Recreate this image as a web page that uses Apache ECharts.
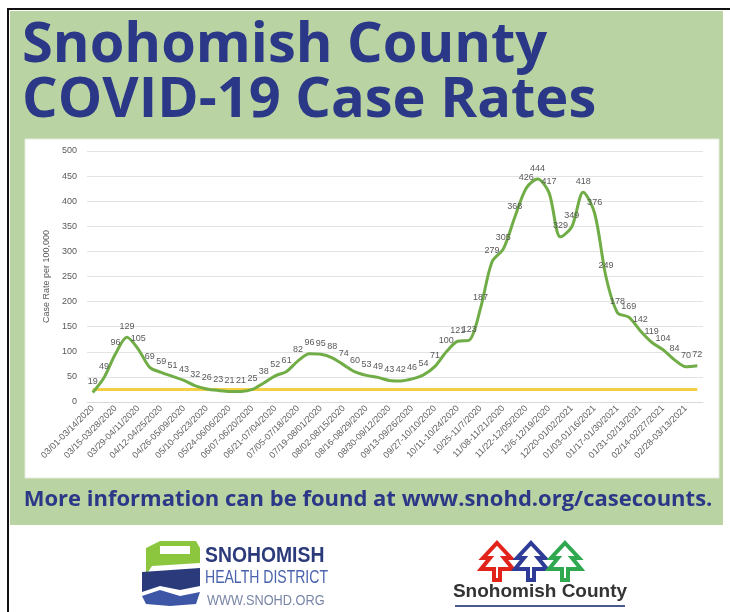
<!DOCTYPE html>
<html>
<head>
<meta charset="utf-8">
<script src="https://cdn.jsdelivr.net/npm/echarts@6/dist/echarts.min.js"></script>
<style>
  html, body { margin: 0; padding: 0; background: #ffffff; }
  #chart { width: 730px; height: 612px; }
</style>
</head>
<body>
<div id="chart"></div>
<script>
// ---- Data ----
const categories = [
  '03/01-03/14/2020','03/08-03/21/2020','03/15-03/28/2020','03/22-04/04/2020',
  '03/29-04/11/2020','04/05-04/18/2020','04/12-04/25/2020','04/19-05/02/2020',
  '04/26-05/09/2020','05/03-05/16/2020','05/10-05/23/2020','05/17-05/30/2020',
  '05/24-06/06/2020','05/31-06/13/2020','06/07-06/20/2020','06/14-06/27/2020',
  '06/21-07/04/2020','06/28-07/11/2020','07/05-07/18/2020','07/12-07/25/2020',
  '07/19-08/01/2020','07/26-08/08/2020','08/02-08/15/2020','08/09-08/22/2020',
  '08/16-08/29/2020','08/23-09/05/2020','08/30-09/12/2020','09/06-09/19/2020',
  '09/13-09/26/2020','09/20-10/03/2020','09/27-10/10/2020','10/04-10/17/2020',
  '10/11-10/24/2020','10/18-10/31/2020','10/25-11/7/2020','11/01-11/14/2020',
  '11/08-11/21/2020','11/15-11/28/2020','11/22-12/05/2020','11/29-12/12/2020',
  '12/6-12/19/2020','12/13-12/26/2020','12/20-01/02/2021','12/27-01/09/2021',
  '01/03-01/16/2021','01/10-01/23/2021','01/17-01/30/2021','01/24-02/06/2021',
  '01/31-02/13/2021','02/07-02/20/2021','02/14-02/27/2021','02/21-03/06/2021',
  '02/28-03/13/2021','03/07-03/20/2021'
];
const caseRates = [
  19, 49, 96, 129, 105, 69, 59, 51, 43, 32,
  26, 23, 21, 21, 25, 38, 52, 61, 82, 96,
  95, 88, 74, 60, 53, 49, 43, 42, 46, 54,
  71, 100, 121, 123, 187, 279, 305, 368, 426, 444,
  417, 329, 349, 418, 376, 249, 178, 169, 142, 119,
  104, 84, 70, 72
];
const thresholdRate = 25;
const yAxisMin = 0;
const yAxisMax = 500;
const yAxisStep = 50;

const titleLines = ['Snohomish County', 'COVID-19 Case Rates'];
const footerText = 'More information can be found at www.snohd.org/casecounts.';
const yAxisTitle = 'Case Rate per 100,000';

// ---- Chart ----
const chart = echarts.init(document.getElementById('chart'), null, { renderer: 'canvas' });
const NAVY = '#2b3787';
const GREEN_BG = '#bad3a2';

function tree(cx, top, color) {
  const p = [
    [cx, top], [cx + 14, top + 15], [cx + 7, top + 15], [cx + 16, top + 26],
    [cx + 3, top + 26], [cx + 3, top + 37], [cx - 3, top + 37], [cx - 3, top + 26],
    [cx - 16, top + 26], [cx - 7, top + 15], [cx - 14, top + 15]
  ];
  return {
    type: 'polygon', shape: { points: p },
    style: { fill: 'none', stroke: color, lineWidth: 4, lineJoin: 'miter' }, z: 10
  };
}

const graphics = [
  { type: 'rect', shape: { x: 7, y: 8, width: 2, height: 604 }, style: { fill: '#111' }, z: 1 },
  { type: 'rect', shape: { x: 7, y: 8, width: 723, height: 2 }, style: { fill: '#111' }, z: 1 },
  { type: 'rect', shape: { x: 10, y: 11, width: 713, height: 514 }, style: { fill: GREEN_BG }, z: 0 },
  { type: 'rect', shape: { x: 25, y: 139, width: 694, height: 339 },
    style: { fill: '#ffffff', stroke: '#e4ebdc', lineWidth: 1 }, z: 0 },
  { type: 'text', x: 22, y: 46, z: 10,
    style: { text: titleLines[0], font: 'bold 56px "Open Sans"', fill: NAVY, verticalAlign: 'middle' } },
  { type: 'text', x: 22, y: 101, z: 10,
    style: { text: titleLines[1], font: 'bold 56px "Open Sans"', fill: NAVY, verticalAlign: 'middle' } },
  { type: 'text', x: 368, y: 500, z: 10,
    style: { text: footerText, font: 'bold 22px "Open Sans"', fill: NAVY, align: 'center', verticalAlign: 'middle' } },

  // left logo icon (approximation)
  { type: 'polygon', shape: { points: [[146,548],[160,541],[196,541],[200,548],[200,563],[152,566],[146,575]] },
    style: { fill: '#8cc63f' }, z: 10 },
  { type: 'rect', shape: { x: 160, y: 546, width: 30, height: 8 }, style: { fill: '#ffffff' }, z: 11 },
  { type: 'polygon', shape: { points: [[142,572],[200,568],[200,586],[180,590],[160,586],[142,592]] },
    style: { fill: '#2b3a7a' }, z: 10 },
  { type: 'polygon', shape: { points: [[142,596],[160,590],[180,596],[200,592],[196,604],[170,606],[146,604]] },
    style: { fill: '#3d56a6' }, z: 10 },
  { type: 'text', x: 205, y: 556, scaleX: 0.88, z: 10,
    style: { text: 'SNOHOMISH', font: 'bold 22px "Liberation Sans"', fill: '#2b3a7a', verticalAlign: 'middle' } },
  { type: 'text', x: 205, y: 578, scaleX: 0.78, z: 10,
    style: { text: 'HEALTH DISTRICT', font: '18px "Liberation Sans"', fill: '#4a63ad', verticalAlign: 'middle' } },
  { type: 'text', x: 207, y: 601, scaleX: 0.85, z: 10,
    style: { text: 'WWW.SNOHD.ORG', font: '15px "Liberation Sans"', fill: '#7a86a8', verticalAlign: 'middle' } },

  // right logo
  tree(497, 543, '#e2231a'),
  tree(531, 543, '#2e3c97'),
  tree(565, 543, '#2fa84f'),
  { type: 'text', x: 540, y: 592, z: 10,
    style: { text: 'Snohomish County', font: 'bold 19px "Liberation Sans"', fill: '#333333', align: 'center', verticalAlign: 'middle' } },
  { type: 'rect', shape: { x: 455, y: 605, width: 170, height: 2 }, style: { fill: '#4a5a8a' }, z: 10 }
];

const option = {
  animation: false,
  backgroundColor: '#ffffff',
  graphic: graphics,
  grid: { left: 87, right: 27, top: 151, bottom: 210, containLabel: false },
  xAxis: {
    type: 'category',
    data: categories,
    boundaryGap: true,
    axisLine: { show: true, lineStyle: { color: '#d9d9d9' } },
    axisTick: { show: false },
    axisLabel: { interval: 1, rotate: 45, fontSize: 9, color: '#606060', fontFamily: 'Liberation Sans', margin: 5 }
  },
  yAxis: {
    type: 'value',
    min: yAxisMin, max: yAxisMax, interval: yAxisStep,
    name: yAxisTitle,
    nameLocation: 'middle',
    nameGap: 36,
    nameRotate: 90,
    nameTextStyle: { fontSize: 9, color: '#595959', fontFamily: 'Liberation Sans' },
    axisLine: { show: false },
    axisTick: { show: false },
    axisLabel: { fontSize: 9, color: '#595959', fontFamily: 'Liberation Sans', margin: 10 },
    splitLine: { lineStyle: { color: '#e3e3e3', width: 1 } }
  },
  series: [{
    type: 'line',
    data: caseRates,
    smooth: 0.3,
    symbol: 'circle',
    symbolSize: 1,
    showSymbol: true,
    itemStyle: { color: 'rgba(112,173,71,0)' },
    lineStyle: { color: '#70ad47', width: 3 },
    label: { show: true, position: 'top', distance: 6, fontSize: 9, color: '#595959', fontFamily: 'Liberation Sans' },
    labelLayout: { hideOverlap: false },
    markLine: {
      silent: true,
      symbol: 'none',
      label: { show: false },
      lineStyle: { color: '#f3cf45', width: 3, type: 'solid' },
      data: [[
        { coord: [categories[0], thresholdRate] },
        { coord: [categories[categories.length - 1], thresholdRate] }
      ]]
    },
    z: 5
  }]
};
chart.setOption(option);
</script>
</body>
</html>
